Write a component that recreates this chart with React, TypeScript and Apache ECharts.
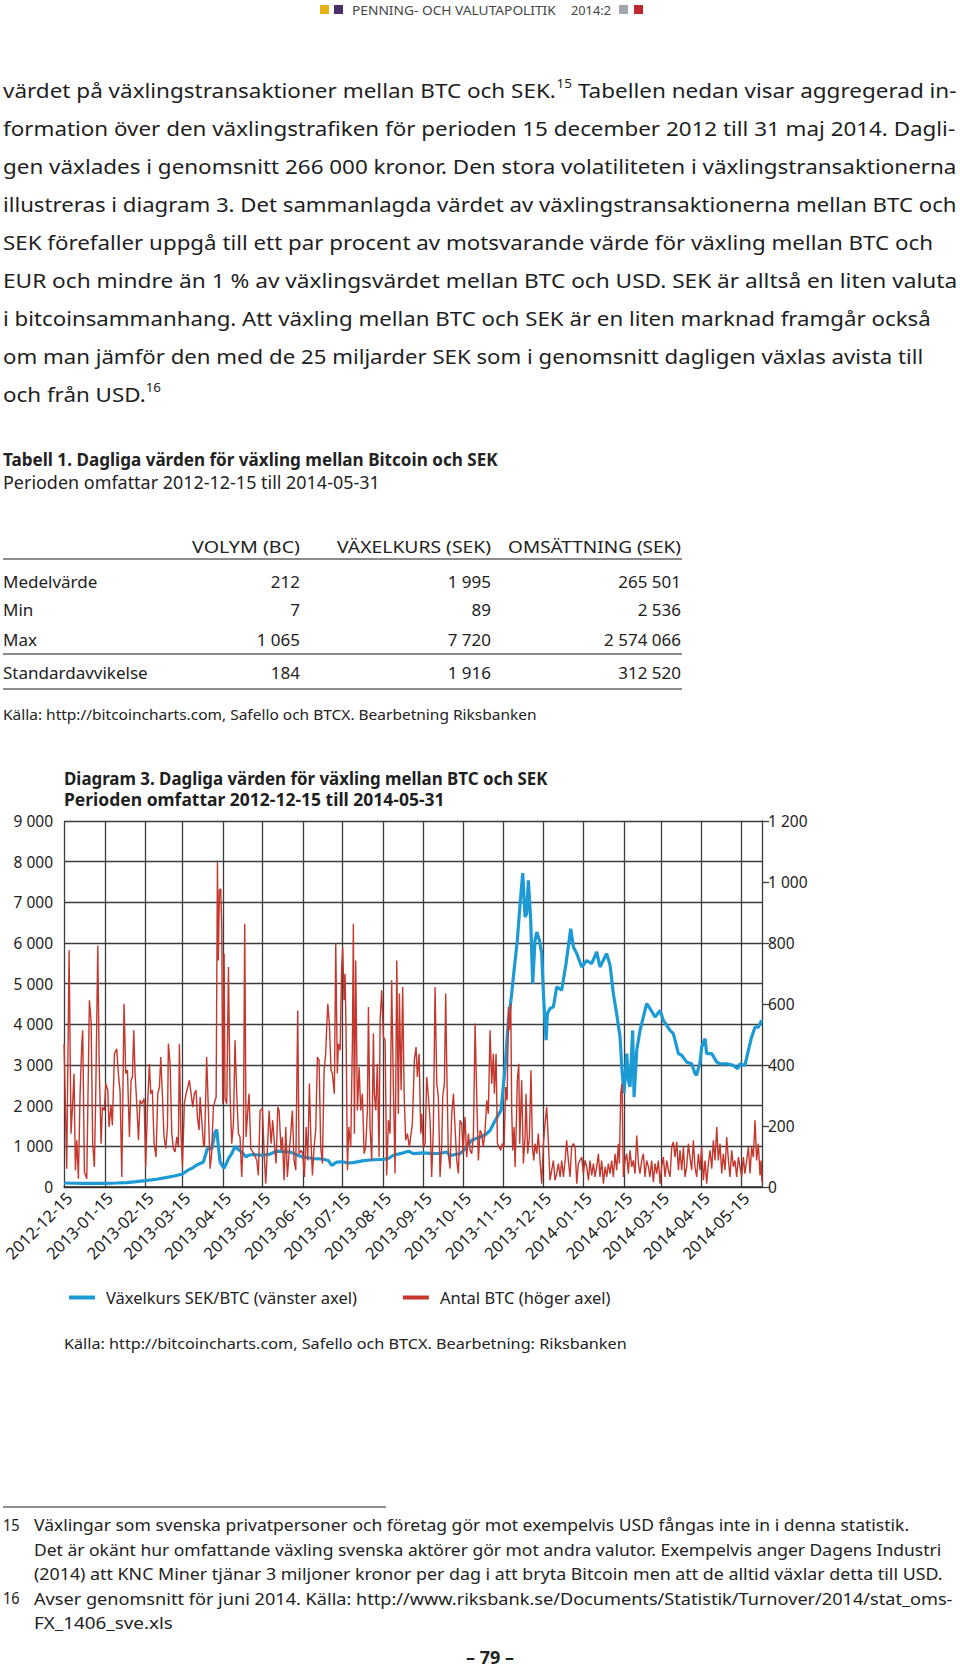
import React, { useEffect, useRef } from 'react';
import * as echarts from 'echarts';

const FONT = 'Noto Sans';
const BLUE = '#1c9ad6';
const RED = '#c5362c';
const START_UTC = Date.UTC(2012, 11, 15);
const DAY_COUNT = 532; // 2012-12-15 .. 2014-05-31

const tickLabels = [
  '2012-12-15', '2013-01-15', '2013-02-15', '2013-03-15', '2013-04-15', '2013-05-15',
  '2013-06-15', '2013-07-15', '2013-08-15', '2013-09-15', '2013-10-15', '2013-11-15',
  '2013-12-15', '2014-01-15', '2014-02-15', '2014-03-15', '2014-04-15', '2014-05-15',
];

// [days since 2012-12-15, SEK per BTC]
const blueRate: [number, number][] = [
  [0, 98], [7, 92], [14.7, 90], [22, 88], [31.5, 90], [40, 98], [47.8, 108], [55, 130], [62, 155],
  [70.6, 190], [78.3, 235], [84, 270], [90.2, 320], [94.8, 420], [98, 470], [101.1, 540], [106.2, 615],
  [109.2, 940], [112.6, 945], [115.1, 1350], [116.4, 1410], [117.6, 1000], [118.9, 620], [120.2, 540],
  [122, 460], [125.3, 700], [127.8, 820], [130.3, 1000], [132.1, 940], [135.4, 860], [138.7, 740],
  [140.5, 780], [144.3, 800], [151.2, 780], [157, 810], [162.1, 880], [167, 870], [172.3, 860],
  [177.3, 790], [181.9, 740], [186, 720], [190, 700], [196.4, 690], [201.5, 650], [204, 530],
  [207.8, 610], [212.1, 620], [216.7, 590], [220.5, 600], [228.2, 650], [235.8, 670], [243.4, 680],
  [247.2, 700], [251, 780], [258.6, 840], [262.5, 880], [266.3, 820], [273.9, 840], [281.5, 820],
  [287, 830], [291.7, 860], [294.2, 770], [298, 800], [301.8, 820], [305.6, 940], [310.7, 1150],
  [317.1, 1230], [320.9, 1280], [324.7, 1390], [328, 1600], [333.1, 1890], [336.1, 2910], [338.7, 4100],
  [341.2, 4750], [343, 5330], [345.5, 6070], [347.6, 6970], [349.6, 7720], [351.4, 6640], [352.6, 6720],
  [353.9, 7540], [355.7, 6560], [357.2, 5000], [359, 6070], [360.3, 6270], [362.3, 6070], [364.1, 5740],
  [365.4, 4750], [367.4, 3610], [368.4, 4260], [370.4, 4390], [373, 4430], [375.5, 4920], [379.3, 4840],
  [382.6, 5490], [386.2, 6350], [388.2, 5900], [390.8, 5740], [394.6, 5410], [398.4, 5570], [402.2, 5490],
  [406, 5780], [408.5, 5410], [413.6, 5740], [416.2, 5450], [418.7, 4750], [421.2, 4260], [423.8, 3690],
  [425.1, 2950], [426.8, 2300], [428.9, 3280], [430.1, 2620], [431.4, 2460], [433.4, 3850], [434.5, 2210],
  [436.5, 3360], [439, 3850], [444.1, 4510], [446.6, 4390], [450.5, 4180], [454.3, 4340], [456.8, 4100],
  [461.9, 3850], [464.4, 3770], [468.3, 3280], [470.8, 3240], [474.6, 3070], [478.4, 3030], [480.9, 2790],
  [482.2, 2750], [484.8, 3070], [486, 3440], [488.6, 3650], [489.8, 3280], [493.7, 3280], [497.5, 3070],
  [500, 3030], [505.1, 3030], [510.2, 2990], [513.5, 2910], [515.2, 3030], [519, 2990], [521.6, 3360],
  [524.1, 3690], [526.7, 3930], [529.2, 3930], [531.8, 4100],
];

// [days since 2012-12-15, number of BTC]
const redVolume: [number, number][] = [
  [0, 470], [2, 60], [3.8, 776], [5.3, 175], [6.4, 262], [7.6, 372], [8.6, 55], [9.7, 153], [10.9, 27],
  [12.2, 306], [13.5, 470], [14.2, 514], [15.5, 49], [17.3, 27], [19.3, 612], [20.6, 546], [21.8, 142],
  [23.1, 66], [24.1, 295], [25.7, 792], [26.7, 415], [28.2, 142], [29.2, 262], [30.7, 251], [31.8, 339],
  [33.3, 317], [34.3, 197], [35.8, 268], [36.8, 202], [38.4, 437], [40.1, 453], [41.4, 372], [42.7, 311],
  [44, 33], [45.7, 601], [47, 372], [48.3, 383], [49.8, 164], [51.1, 350], [52.1, 361], [53.1, 514],
  [54.1, 372], [55.4, 273], [56.7, 153], [57.9, 284], [59.2, 273], [61, 290], [62.2, 66], [63.5, 251],
  [65, 404], [66.1, 306], [67.3, 317], [68.6, 142], [70.1, 98], [71.4, 306], [72.7, 328], [73.7, 426],
  [74.9, 306], [76.2, 164], [77.5, 126], [78.8, 197], [79.5, 470], [80.8, 404], [82.1, 175], [83.3, 126],
  [84.6, 115], [85.9, 164], [87.1, 131], [87.9, 470], [88.9, 197], [90.2, 66], [91.7, 273], [93, 306],
  [94.3, 328], [95.5, 350], [96.8, 306], [98.1, 262], [99.3, 306], [100.6, 317], [101.6, 230], [102.9, 186],
  [103.7, 295], [104.9, 219], [106.2, 142], [107, 131], [108.7, 426], [110, 251], [111.3, 60], [112.5, 109],
  [113.8, 262], [115.1, 284], [115.9, 295], [116.9, 1065], [117.6, 743], [118.4, 973], [119.4, 978],
  [120.2, 852], [120.9, 273], [122, 765], [122.7, 290], [124, 273], [125.3, 721], [126.5, 306], [127.8, 142],
  [129.1, 208], [130.3, 481], [131.6, 306], [132.9, 175], [134.1, 164], [135.4, 33], [136.7, 169],
  [137.7, 863], [138.7, 164], [139.7, 230], [141, 306], [142.3, 126], [143.8, 115], [144.8, 109], [146.9, 87],
  [148.1, 38], [149.4, 251], [151.2, 257], [152.4, 120], [153.7, 11], [155, 126], [156.3, 251], [157.8, 142],
  [159, 219], [160.3, 142], [161.6, 77], [162.9, 262], [163.9, 251], [165.4, 120], [166.4, 164], [167.7, 22],
  [169, 197], [170.2, 33], [171.5, 109], [172.8, 175], [174, 251], [175.3, 87], [176.6, 55], [178.1, 579],
  [179.1, 109], [180.7, 120], [181.9, 109], [183.2, 33], [184.5, 197], [185.7, 87], [187, 339], [188, 175],
  [189.3, 38], [190.6, 131], [191.8, 186], [193.1, 426], [194.4, 415], [195.6, 131], [196.9, 77], [198.2, 383],
  [199.4, 437], [200.2, 525], [201, 601], [202.2, 536], [203.5, 383], [204.5, 372], [206, 306], [207.1, 798],
  [208.3, 372], [209.1, 470], [210.4, 448], [211.6, 721], [212.4, 787], [213.4, 612], [214.2, 699],
  [214.9, 525], [216, 55], [217, 197], [218.5, 131], [219.8, 481], [220.5, 863], [221.3, 175], [222.3, 743],
  [223.6, 251], [224.9, 393], [226.1, 251], [227.4, 306], [228.7, 109], [229.9, 131], [231.2, 251],
  [232, 590], [233.2, 197], [234.5, 87], [235.8, 503], [236.5, 306], [237.6, 251], [238.8, 404], [240.1, 98],
  [240.9, 546], [242.1, 645], [243.4, 492], [244.7, 481], [245.9, 38], [247.2, 219], [248.5, 175],
  [249.7, 678], [251, 328], [252.3, 44], [253.6, 743], [254.8, 240], [255.6, 634], [256.9, 317], [258.1, 656],
  [259.2, 306], [260.4, 153], [261.7, 175], [263.2, 131], [264.5, 175], [265.5, 208], [267, 415], [268.3, 459],
  [269.3, 361], [270.6, 437], [271.9, 175], [272.6, 240], [273.9, 131], [275.2, 142], [276.4, 361],
  [277.7, 295], [279, 219], [280.2, 33], [281.5, 197], [282.8, 656], [284.1, 339], [285.3, 295], [286.6, 33],
  [287.9, 142], [288.6, 295], [289.9, 339], [290.9, 634], [291.7, 393], [292.9, 109], [294.2, 60],
  [295.5, 240], [296.8, 306], [298, 197], [299.3, 87], [300.6, 44], [301.8, 219], [303.1, 208], [304.1, 109],
  [305.6, 230], [306.9, 98], [308.2, 175], [309.5, 120], [310.7, 109], [312, 164], [313.3, 536], [314.5, 306],
  [315.8, 87], [317.1, 186], [318.3, 175], [319.6, 131], [320.9, 186], [322.2, 284], [323.4, 240],
  [324.7, 514], [326, 339], [327.2, 437], [328, 306], [329.3, 437], [330.3, 142], [331.6, 131], [332.8, 120],
  [334.1, 142], [335.4, 131], [336.6, 328], [337.7, 284], [338.7, 590], [339.4, 514], [340.5, 601],
  [341.2, 251], [342, 120], [343, 197], [343.8, 66], [344.8, 219], [345.5, 350], [346.6, 404], [347.3, 142],
  [348.1, 251], [348.8, 350], [350.1, 77], [351.4, 164], [352.1, 306], [353.4, 109], [354.7, 164],
  [355.9, 383], [357, 131], [358, 87], [359, 142], [360.3, 109], [361.5, 175], [362.8, 87], [364.1, 11],
  [365.4, 142], [366.6, 208], [367.9, 262], [369.2, 142], [370.4, 22], [371.7, 55], [373, 87], [374.2, 22],
  [375.5, 44], [376.8, 77], [378.1, 33], [379.3, 87], [380.6, 33], [381.9, 87], [383.1, 153], [384.4, 87],
  [385.7, 33], [386.9, 131], [388.2, 142], [389.5, 131], [390.8, 11], [392, 77], [393.3, 87], [394.6, 98],
  [395.8, 44], [397.1, 87], [398.4, 66], [399.7, 22], [400.9, 87], [402.2, 38], [403.5, 77], [404.7, 33],
  [406, 66], [407.3, 109], [408.5, 33], [409.8, 87], [411.1, 11], [412.4, 66], [413.6, 33], [414.9, 77],
  [416.2, 44], [417.4, 87], [418.7, 33], [420, 109], [421.2, 55], [422.5, 142], [423.3, 77], [424.3, 306],
  [425.3, 339], [426.3, 33], [427.6, 87], [428.9, 109], [430.1, 44], [431.4, 120], [432.7, 66], [433.9, 87],
  [435.2, 44], [436.5, 169], [437.8, 77], [439, 44], [440.3, 87], [441.6, 109], [442.8, 33], [444.1, 87],
  [445.4, 66], [446.6, 33], [447.9, 87], [449.2, 16], [450.5, 77], [451.7, 44], [453, 87], [454.3, 11],
  [455.5, 66], [456.8, 98], [458.1, 33], [459.4, 87], [460.6, 55], [461.9, 33], [463.2, 131], [464.4, 148],
  [465.7, 98], [467, 148], [468.3, 55], [469.5, 120], [470.8, 55], [472.1, 131], [473.3, 33], [474.6, 66],
  [475.9, 142], [477.1, 98], [478.4, 55], [479.7, 153], [480.9, 66], [482.2, 33], [483.5, 109], [484.8, 55],
  [486, 131], [487.3, 22], [488.6, 87], [489.8, 11], [491.1, 77], [492.4, 120], [493.7, 60], [494.9, 153],
  [496.2, 87], [497.5, 197], [498.7, 87], [500, 142], [501.3, 44], [502.5, 109], [503.8, 55], [505.1, 164],
  [506.4, 87], [507.6, 33], [508.9, 120], [510.2, 66], [511.4, 87], [512.7, 33], [514, 98], [515.2, 66],
  [516.5, 33], [517.8, 98], [519, 44], [520.3, 87], [521.6, 131], [522.9, 44], [524.1, 131], [525.4, 98],
  [526.7, 219], [527.9, 87], [529.2, 142], [530.5, 38], [531.3, 87], [532, 16],
];

const seriesNames = ['Växelkurs SEK/BTC (vänster axel)', 'Antal BTC (höger axel)'];

const bodyLines: string[][] = [
  ['värdet på växlingstransaktioner mellan BTC och SEK.', '15', ' Tabellen nedan visar aggregerad in-'],
  ['formation över den växlingstrafiken för perioden 15 december 2012 till 31 maj 2014. Dagli-'],
  ['gen växlades i genomsnitt 266 000 kronor. Den stora volatiliteten i växlingstransaktionerna'],
  ['illustreras i diagram 3. Det sammanlagda värdet av växlingstransaktionerna mellan BTC och'],
  ['SEK förefaller uppgå till ett par procent av motsvarande värde för växling mellan BTC och'],
  ['EUR och mindre än 1 % av växlingsvärdet mellan BTC och USD. SEK är alltså en liten valuta'],
  ['i bitcoinsammanhang. Att växling mellan BTC och SEK är en liten marknad framgår också'],
  ['om man jämför den med de 25 miljarder SEK som i genomsnitt dagligen växlas avista till'],
  ['och från USD.', '16'],
];
const bodyLineEnds = [957, 956, 957, 957, 933, 958, 931, 924, 0];

const tableHeader = ['VOLYM (BC)', 'VÄXELKURS (SEK)', 'OMSÄTTNING (SEK)'];
const tableRows = ['Medelvärde', 'Min', 'Max', 'Standardavvikelse'];
const tableVolume = ['212', '7', '1 065', '184'];
const tableRate = ['1 995', '89', '7 720', '1 916'];
const tableTurnover = ['265 501', '2 536', '2 574 066', '312 520'];

const footnotes = [
  { num: '15', lines: [
    'Växlingar som svenska privatpersoner och företag gör mot exempelvis USD fångas inte in i denna statistik.',
    'Det är okänt hur omfattande växling svenska aktörer gör mot andra valutor. Exempelvis anger Dagens Industri',
    '(2014) att KNC Miner tjänar 3 miljoner kronor per dag i att bryta Bitcoin men att de alltid växlar detta till USD.',
  ], ends: [910, 942, 943] },
  { num: '16', lines: [
    'Avser genomsnitt för juni 2014. Källa: http://www.riksbank.se/Documents/Statistik/Turnover/2014/stat_oms-',
    'FX_1406_sve.xls',
  ], ends: [953, 173] },
];

let measureCtx: CanvasRenderingContext2D | null = null;
function measure(text: string, size: number, weight = 'normal', family = FONT) {
  if (!measureCtx) measureCtx = document.createElement('canvas').getContext('2d');
  measureCtx!.font = `${weight} ${size}px "${family}"`;
  return measureCtx!.measureText(text).width;
}

type TO = { size: number; weight?: string; fill?: string; align?: string; w?: number; sx?: number };
function T(text: string, x: number, y: number, o: TO) {
  const weight = o.weight || 'normal';
  const sx = o.sx !== undefined ? o.sx : o.w ? o.w / measure(text, o.size, weight) : 1;
  return {
    type: 'text', x, y, scaleX: sx, silent: true,
    style: {
      text, fontSize: o.size, fontWeight: weight, fontFamily: FONT,
      fill: o.fill || '#222', textAlign: o.align || 'left', textVerticalAlign: 'middle',
    },
  };
}

function buildGraphics() {
  const g: any[] = [];
  // header
  g.push({ type: 'rect', shape: { x: 320, y: 5, width: 9, height: 9 }, style: { fill: '#e5b012' }, silent: true });
  g.push({ type: 'rect', shape: { x: 334, y: 5, width: 9, height: 9 }, style: { fill: '#4b2d68' }, silent: true });
  g.push({ type: 'rect', shape: { x: 619, y: 5, width: 9, height: 9 }, style: { fill: '#a2a7ad' }, silent: true });
  g.push({ type: 'rect', shape: { x: 634, y: 5, width: 9, height: 9 }, style: { fill: '#c0272d' }, silent: true });
  g.push(T('PENNING- OCH VALUTAPOLITIK', 352, 10, { size: 12.5, fill: '#444', w: 204 }));
  g.push(T('2014:2', 571, 10, { size: 12.5, fill: '#444', w: 40 }));

  // body text
  const BS = 20;
  const scales: number[] = [];
  bodyLines.forEach((parts, i) => {
    const y = 90 + 38 * i;
    const x0 = 3;
    const hasSup = parts.length > 1;
    const wA = measure(parts[0], BS);
    const wS = hasSup ? measure(parts[1], 12) : 0;
    const wB = parts.length > 2 ? measure(parts[2], BS) : 0;
    let s: number;
    if (bodyLineEnds[i] > 0) {
      s = (bodyLineEnds[i] - x0) / (wA + wS + wB);
      scales.push(s);
    } else {
      s = scales.reduce((a, b) => a + b, 0) / scales.length;
    }
    g.push(T(parts[0], x0, y, { size: BS, sx: s, fill: '#1e1e1e' }));
    if (hasSup) g.push(T(parts[1], x0 + wA * s, y - 7, { size: 12, sx: s, fill: '#1e1e1e' }));
    if (parts.length > 2) g.push(T(parts[2], x0 + (wA + wS) * s, y, { size: BS, sx: s, fill: '#1e1e1e' }));
  });

  // table
  g.push(T('Tabell 1. Dagliga värden för växling mellan Bitcoin och SEK', 3, 459, { size: 18, weight: 'bold', w: 495, fill: '#222' }));
  g.push(T('Perioden omfattar 2012-12-15 till 2014-05-31', 3, 482, { size: 18, w: 377, fill: '#222' }));
  const colX = [300, 491, 681];
  const headW = [108, 154, 173];
  tableHeader.forEach((h, i) => g.push(T(h, colX[i], 546, { size: 17, align: 'right', w: headW[i], fill: '#222' })));
  const rowY = [581, 609, 639, 672];
  tableRows.forEach((r, i) => {
    g.push(T(r, 3, rowY[i], { size: 17, fill: '#222' }));
    g.push(T(tableVolume[i], colX[0], rowY[i], { size: 17, align: 'right', fill: '#222' }));
    g.push(T(tableRate[i], colX[1], rowY[i], { size: 17, align: 'right', fill: '#222' }));
    g.push(T(tableTurnover[i], colX[2], rowY[i], { size: 17, align: 'right', fill: '#222' }));
  });
  [559, 654, 689].forEach((y) => g.push({ type: 'line', shape: { x1: 3, y1: y, x2: 682, y2: y }, style: { stroke: '#8c8c8c', lineWidth: 2 }, silent: true }));
  g.push(T('Källa: http://bitcoincharts.com, Safello och BTCX. Bearbetning Riksbanken', 3, 714, { size: 15, w: 534, fill: '#222' }));

  // chart titles and source
  g.push(T('Diagram 3. Dagliga värden för växling mellan BTC och SEK', 64, 778, { size: 18, weight: 'bold', w: 484, fill: '#1e1e1e' }));
  g.push(T('Perioden omfattar 2012-12-15 till 2014-05-31', 64, 799, { size: 18, weight: 'bold', w: 381, fill: '#1e1e1e' }));
  g.push(T('Källa: http://bitcoincharts.com, Safello och BTCX. Bearbetning: Riksbanken', 64, 1343, { size: 15, w: 563, fill: '#222' }));

  // footnotes
  g.push({ type: 'line', shape: { x1: 3, y1: 1507, x2: 386, y2: 1507 }, style: { stroke: '#222', lineWidth: 1 }, silent: true });
  let fy = 1525;
  footnotes.forEach((f) => {
    g.push(T(f.num, 3, fy, { size: 17, sx: 0.86, fill: '#222' }));
    f.lines.forEach((l, j) => {
      g.push(T(l, 34, fy, { size: 17, w: f.ends[j] - 34, fill: '#222' }));
      fy += 24.3;
    });
  });
  g.push(T('– 79 –', 490, 1657, { size: 18, weight: 'bold', align: 'center', fill: '#222' }));
  return g;
}

function fmtNum(v: number) {
  if (v >= 1000) return `${Math.floor(v / 1000)} ${String(v % 1000).padStart(3, '0')}`;
  return String(v);
}

export default function App() {
  const ref = useRef<HTMLDivElement>(null);
  useEffect(() => {
    if (!ref.current) return;
    const chart = echarts.init(ref.current, undefined, { renderer: 'svg' });
    const days: string[] = [];
    for (let i = 0; i <= DAY_COUNT; i++) days.push(new Date(START_UTC + i * 86400000).toISOString().slice(0, 10));
    const isTick = (_i: number, v: string) => tickLabels.indexOf(v) >= 0;
    const option: any = {
      animation: false,
      backgroundColor: '#ffffff',
      textStyle: { fontFamily: FONT },
      grid: { left: 64, top: 821, width: 698, height: 366, containLabel: false },
      legend: {
        left: 64, top: 1284, itemWidth: 26, itemHeight: 4, icon: 'rect', itemGap: 46,
        data: seriesNames, selectedMode: false,
        textStyle: { fontSize: 16.5, color: '#222', fontFamily: FONT, padding: [0, 0, 0, 6] },
      },
      xAxis: [
        {
          type: 'category', data: days, boundaryGap: false,
          axisLine: { show: true, lineStyle: { color: '#2a2a2a', width: 1.6 } },
          axisTick: { show: false },
          splitLine: { show: true, interval: isTick, lineStyle: { color: '#3c3c3c', width: 1.3 } },
          axisLabel: {
            interval: isTick, rotate: 45, fontSize: 16.5, color: '#222', margin: 13, fontFamily: FONT,
            padding: [0, -7, 0, 0],
          },
        },
        { type: 'value', min: 0, max: DAY_COUNT, show: false },
      ],
      yAxis: [
        {
          type: 'value', min: 0, max: 9000, interval: 1000, position: 'left',
          axisLine: { show: false }, axisTick: { show: false },
          splitLine: { show: true, lineStyle: { color: '#3c3c3c', width: 1.3 } },
          axisLabel: { formatter: fmtNum, fontSize: 15.5, color: '#222', margin: 11, fontFamily: FONT },
        },
        {
          type: 'value', min: 0, max: 1200, interval: 200, position: 'right',
          axisLine: { show: true, lineStyle: { color: '#3c3c3c', width: 1.3 } },
          axisTick: { show: true, length: 7, lineStyle: { color: '#3c3c3c', width: 1.3 } },
          splitLine: { show: false },
          axisLabel: { formatter: fmtNum, fontSize: 15.5, color: '#222', margin: 6, fontFamily: FONT },
        },
      ],
      series: [
        {
          name: seriesNames[0], type: 'line', xAxisIndex: 1, yAxisIndex: 0, data: blueRate,
          showSymbol: false, symbol: 'none', lineStyle: { color: BLUE, width: 3.2 }, itemStyle: { color: BLUE }, z: 3,
        },
        {
          name: seriesNames[1], type: 'line', xAxisIndex: 1, yAxisIndex: 1, data: redVolume,
          showSymbol: false, symbol: 'none', lineStyle: { color: RED, width: 1.4 }, itemStyle: { color: RED }, z: 4,
        },
      ],
      graphic: buildGraphics(),
    };
    chart.setOption(option);
    return () => chart.dispose();
  }, []);
  return <div ref={ref} style={{ position: 'absolute', left: 0, top: 0, width: 960, height: 1672, background: '#fff' }} />;
}
